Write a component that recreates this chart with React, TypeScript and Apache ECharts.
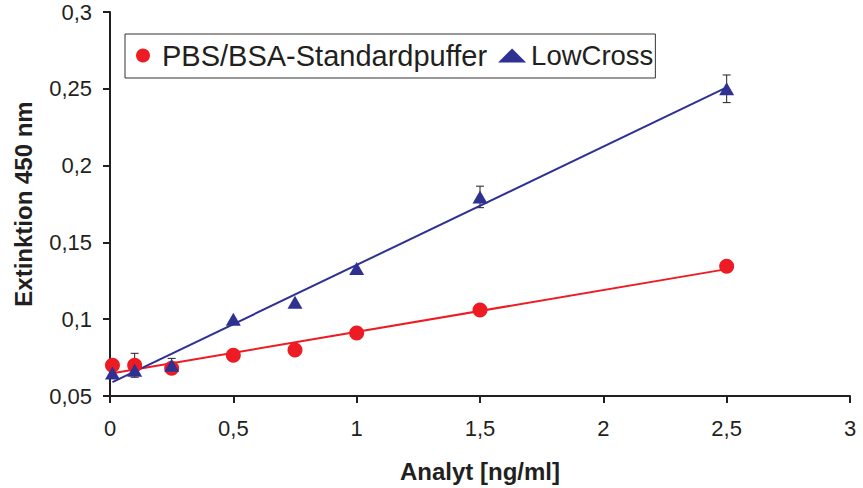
import React, { useEffect, useRef } from "react";
import * as echarts from "echarts";

const xValues = [0.01, 0.1, 0.25, 0.5, 0.75, 1, 1.5, 2.5];
const pbsValues = [0.07, 0.07, 0.068, 0.0766, 0.08, 0.091, 0.106, 0.1345];
const pbsErrors = [0, 0.0078, 0, 0, 0, 0, 0, 0];
const lowCrossValues = [0.065, 0.0668, 0.07, 0.1, 0.111, 0.133, 0.1796, 0.25];
const lowCrossErrors = [0, 0, 0.0045, 0, 0, 0, 0.007, 0.009];

const seriesNames = ["PBS/BSA-Standardpuffer", "LowCross"];
const xTickValues = [0, 0.5, 1, 1.5, 2, 2.5, 3];
const xTickLabels = ["0", "0,5", "1", "1,5", "2", "2,5", "3"];
const yTickValues = [0.05, 0.1, 0.15, 0.2, 0.25, 0.3];
const yTickLabels = ["0,05", "0,1", "0,15", "0,2", "0,25", "0,3"];

const RED = "#ed1c24";
const BLUE = "#2e3192";
const INK = "#231f20";
const FONT = "'Liberation Sans', Arial, Helvetica, sans-serif";

function lookup(values: number[], labels: string[], v: number) {
  for (let i = 0; i < values.length; i++) {
    if (Math.abs(values[i] - v) < 1e-6) return labels[i];
  }
  return "";
}

function regression(xs: number[], ys: number[]) {
  const n = xs.length;
  const mx = xs.reduce((a, b) => a + b, 0) / n;
  const my = ys.reduce((a, b) => a + b, 0) / n;
  let sxy = 0;
  let sxx = 0;
  for (let i = 0; i < n; i++) {
    sxy += (xs[i] - mx) * (ys[i] - my);
    sxx += (xs[i] - mx) * (xs[i] - mx);
  }
  const slope = sxy / sxx;
  const intercept = my - slope * mx;
  const x0 = Math.min(...xs);
  const x1 = Math.max(...xs);
  return [
    [x0, intercept + slope * x0],
    [x1, intercept + slope * x1],
  ];
}

function errorSeries(values: number[], errors: number[]) {
  return {
    type: "custom",
    z: 1,
    silent: true,
    data: xValues.map((x, i) => [x, values[i] - errors[i], values[i] + errors[i], errors[i]]),
    encode: { x: 0, y: [1, 2] },
    renderItem: (params: any, api: any) => {
      if (!(api.value(3) > 0)) return null;
      const x = api.value(0);
      const lo = api.coord([x, api.value(1)]);
      const hi = api.coord([x, api.value(2)]);
      const cap = 4;
      const style = { stroke: INK, lineWidth: 1 };
      return {
        type: "group",
        children: [
          { type: "line", shape: { x1: lo[0], y1: lo[1], x2: hi[0], y2: hi[1] }, style },
          { type: "line", shape: { x1: lo[0] - cap, y1: lo[1], x2: lo[0] + cap, y2: lo[1] }, style },
          { type: "line", shape: { x1: hi[0] - cap, y1: hi[1], x2: hi[0] + cap, y2: hi[1] }, style },
        ],
      };
    },
  };
}

export default function App() {
  const ref = useRef<HTMLDivElement>(null);

  useEffect(() => {
    if (!ref.current) return;
    const chart = echarts.init(ref.current, undefined, { renderer: "svg" });
    const axisCommon = {
      axisLine: { show: true, lineStyle: { color: INK, width: 2 } },
      axisTick: { show: true, inside: false, length: 7, lineStyle: { color: INK, width: 2 } },
      splitLine: { show: false },
    };
    chart.setOption({
      animation: false,
      backgroundColor: "#ffffff",
      textStyle: { fontFamily: FONT },
      grid: { left: 110, right: 13, top: 12, bottom: 92, containLabel: false },
      legend: {
        show: true,
        left: 125,
        top: 34,
        orient: "horizontal",
        padding: [7, 2, 8, 11],
        itemGap: 11,
        itemWidth: 28,
        itemHeight: 14,
        borderColor: "#333333",
        borderWidth: 1,
        backgroundColor: "#ffffff",
        textStyle: { fontSize: 28, color: INK, fontFamily: FONT },
        data: [
          { name: seriesNames[0], icon: "circle", textStyle: { fontSize: 29 } },
          { name: seriesNames[1], icon: "triangle", textStyle: { fontSize: 27.5 } },
        ],
      },
      xAxis: {
        type: "value",
        min: 0,
        max: 3,
        interval: 0.5,
        name: "Analyt [ng/ml]",
        nameLocation: "middle",
        nameGap: 63,
        nameTextStyle: { fontSize: 24, fontWeight: "bold", color: INK, fontFamily: FONT },
        axisLabel: {
          fontSize: 22,
          color: INK,
          margin: 21,
          formatter: (v: number) => lookup(xTickValues, xTickLabels, v),
        },
        ...axisCommon,
      },
      yAxis: {
        type: "value",
        min: 0.05,
        max: 0.3,
        interval: 0.05,
        name: "Extinktion 450 nm",
        nameLocation: "middle",
        nameGap: 75,
        nameTextStyle: { fontSize: 24, fontWeight: "bold", color: INK, fontFamily: FONT },
        axisLabel: {
          fontSize: 22,
          color: INK,
          margin: 18,
          formatter: (v: number) => lookup(yTickValues, yTickLabels, v),
        },
        ...axisCommon,
      },
      series: [
        {
          type: "line",
          name: "pbsTrend",
          z: 2,
          silent: true,
          symbol: "none",
          lineStyle: { color: RED, width: 2 },
          data: regression(xValues, pbsValues),
        },
        {
          type: "line",
          name: "lowCrossTrend",
          z: 2,
          silent: true,
          symbol: "none",
          lineStyle: { color: BLUE, width: 2 },
          data: regression(xValues, lowCrossValues),
        },
        errorSeries(pbsValues, pbsErrors),
        errorSeries(lowCrossValues, lowCrossErrors),
        {
          type: "scatter",
          name: seriesNames[0],
          z: 4,
          symbol: "circle",
          symbolSize: 15,
          itemStyle: { color: RED, opacity: 1 },
          data: xValues.map((x, i) => [x, pbsValues[i]]),
        },
        {
          type: "scatter",
          name: seriesNames[1],
          z: 5,
          symbol: "triangle",
          symbolSize: [15, 13],
          itemStyle: { color: BLUE, opacity: 1 },
          data: xValues.map((x, i) => [x, lowCrossValues[i]]),
        },
      ],
    });
    return () => chart.dispose();
  }, []);

  return (
    <div
      ref={ref}
      style={{ position: "fixed", left: 0, top: 0, width: 863, height: 488 }}
    />
  );
}
